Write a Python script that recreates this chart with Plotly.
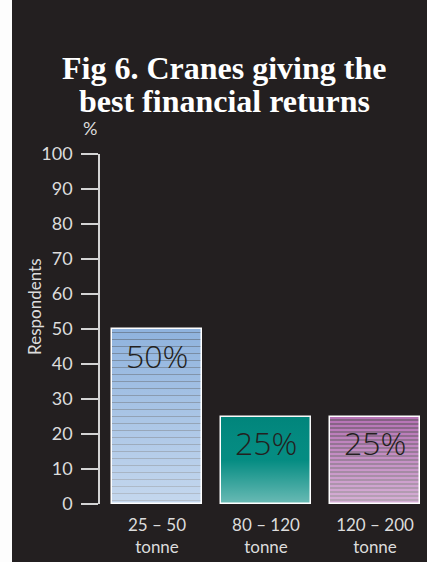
import plotly.graph_objects as go

# Survey result: share of respondents naming each crane class
categories = ["25 – 50<br>tonne", "80 – 120<br>tonne", "120 – 200<br>tonne"]
shares = [50, 25, 25]
value_labels = ["50%", "25%", "25%"]
y_ticks = [0, 10, 20, 30, 40, 50, 60, 70, 80, 90, 100]

# Per-bar styling
base_colors = ["#8fb3de", "#008a80", "#b672b5"]
stripe_shapes = ["-", "", "-"]
stripe_colors = ["#8199bd", "#04867c", "#c792c6"]
stripe_sizes = [7, 3, 4]
stripe_solidity = [0.12, 0.3, 0.45]
fade_alpha = [0.48, 0.42, 0.44]

BG = "#231f20"
AXIS = "#d4d4d4"
TEXT = "#dcdcdc"
BAR_W = 0.826

xs = list(range(len(categories)))

fig = go.Figure()

fig.add_trace(go.Bar(
    x=xs,
    y=shares,
    width=BAR_W,
    marker=dict(
        color=base_colors,
        line=dict(color="white", width=1.5),
        pattern=dict(
            shape=stripe_shapes,
            fgcolor=stripe_colors,
            size=stripe_sizes,
            solidity=stripe_solidity,
            fillmode="overlay",
        ),
    ),
    hoverinfo="skip",
    showlegend=False,
))

# Soft vertical fade over each bar, lighter toward the base
for i, (x, v) in enumerate(zip(xs, shares)):
    a = fade_alpha[i]
    if i == 1:
        scale = [[0, f"rgba(255,255,255,{a})"], [0.5, "rgba(255,255,255,0.02)"],
                 [1, "rgba(0,0,0,0.04)"]]
    else:
        scale = [[0, f"rgba(255,255,255,{a})"], [1, "rgba(255,255,255,0)"]]
    fig.add_trace(go.Scatter(
        x=[x - BAR_W / 2, x + BAR_W / 2, x + BAR_W / 2, x - BAR_W / 2, x - BAR_W / 2],
        y=[0, 0, v, v, 0],
        mode="none",
        fill="toself",
        fillgradient=dict(type="vertical", colorscale=scale),
        hoverinfo="skip",
        showlegend=False,
    ))

annotations = []
for x, v, lab in zip(xs, shares, value_labels):
    annotations.append(dict(
        x=x, y=v, xref="x", yref="y", text=lab, showarrow=False,
        yanchor="middle", yshift=-26,
        font=dict(family="Open Sans", size=32, color="#231f20", weight=300),
    ))

title_font = dict(family="Liberation Serif", size=32, color="white", weight="bold")
annotations += [
    dict(text="Fig 6. Cranes giving the", x=0.38, y=1.2457, xref="paper", yref="paper",
         showarrow=False, xanchor="center", yanchor="middle", height=42, font=title_font),
    dict(text="best financial returns", x=0.38, y=1.1514, xref="paper", yref="paper",
         showarrow=False, xanchor="center", yanchor="middle", height=32, font=title_font),
    dict(text="%", x=-0.0306, y=1.075, xref="paper", yref="paper", showarrow=False,
         xanchor="center", yanchor="middle", height=14,
         font=dict(family="Lato", size=18, color=TEXT)),
    dict(text="Respondents", x=-0.199, y=0.563, xref="paper", yref="paper",
         showarrow=False, textangle=-90, xanchor="center", yanchor="middle",
         font=dict(family="Lato", size=17, color=TEXT)),
]

fig.update_layout(
    width=427,
    height=562,
    margin=dict(l=100, r=0, t=154, b=58),
    paper_bgcolor=BG,
    plot_bgcolor=BG,
    annotations=annotations,
    shapes=[dict(
        type="rect", xref="paper", yref="paper",
        x0=-0.32, x1=-0.2691, y0=-0.2, y1=1.5,
        fillcolor="#fdfdfd", line=dict(width=0), layer="below",
    )],
    xaxis=dict(
        range=[-0.523, 2.477],
        tickmode="array", tickvals=xs, ticktext=categories,
        showline=False, showgrid=False, zeroline=False, ticks="",
        ticklabelstandoff=9,
        tickfont=dict(family="Lato", size=17, color=TEXT),
        fixedrange=True,
    ),
    yaxis=dict(
        range=[0, 100],
        tickmode="array", tickvals=y_ticks,
        showline=True, linecolor=AXIS, linewidth=1.5,
        ticks="outside", ticklen=17, tickwidth=1.5, tickcolor=AXIS,
        ticklabelstandoff=5,
        showgrid=False, zeroline=False,
        tickfont=dict(family="Lato", size=18, color=TEXT),
        fixedrange=True,
    ),
    bargap=0,
)

fig.write_html("out.html")
